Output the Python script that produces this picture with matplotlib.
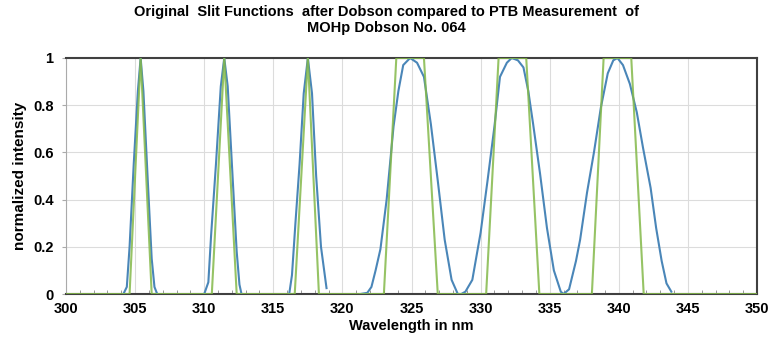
import numpy as np
import matplotlib.pyplot as plt
from matplotlib.ticker import MultipleLocator

plt.rcParams['font.family'] = ['Liberation Sans', 'DejaVu Sans']

ptb_x1 = [304.15, 304.4, 304.6, 304.9, 305.2, 305.4, 305.6, 305.9, 306.2, 306.4, 306.6]
ptb_y1 = [0.0, 0.03, 0.2, 0.55, 0.86, 1.0, 0.86, 0.5, 0.15, 0.03, 0.0]
ptb_x2 = [310.0, 310.3, 310.5, 310.85, 311.2, 311.45, 311.7, 312.05, 312.35, 312.55, 312.7]
ptb_y2 = [0.0, 0.05, 0.25, 0.55, 0.88, 1.0, 0.88, 0.5, 0.18, 0.04, 0.0]
ptb_x3 = [316.15, 316.35, 316.6, 316.9, 317.2, 317.5, 317.8, 318.1, 318.45, 318.85]
ptb_y3 = [0.0, 0.08, 0.3, 0.55, 0.85, 1.0, 0.85, 0.5, 0.2, 0.025]
ptb_x4 = [321.3, 321.8, 322.1, 322.4, 322.75, 323.2, 323.7, 324.05, 324.4, 324.9,
          325.4, 325.9, 326.4, 326.9, 327.4, 327.9, 328.35, 328.6, 328.9, 329.4,
          330.0, 330.5, 331.0, 331.4, 331.9, 332.25, 332.7, 333.1, 333.45, 333.8,
          334.3, 334.8, 335.3, 335.8, 336.0, 336.4, 336.9, 337.2, 337.7, 338.2,
          338.7, 339.2, 339.6, 339.9, 340.3, 340.8, 341.3, 341.75, 342.3, 342.7,
          343.1, 343.45, 343.8]
ptb_y4 = [0.0, 0.005, 0.03, 0.1, 0.19, 0.40, 0.71, 0.86, 0.97, 1.0,
          0.98, 0.92, 0.72, 0.48, 0.23, 0.06, 0.0, 0.0, 0.01, 0.06,
          0.26, 0.48, 0.71, 0.92, 0.98, 1.0, 0.99, 0.96, 0.86, 0.72,
          0.51, 0.28, 0.10, 0.01, 0.0, 0.02, 0.14, 0.23, 0.43, 0.60,
          0.79, 0.935, 0.99, 1.0, 0.97, 0.89, 0.77, 0.62, 0.45, 0.28,
          0.14, 0.045, 0.01]

# original Dobson slit functions
dob_x = [300.0, 304.6, 305.4, 306.2, 310.55, 311.45, 312.35, 316.55, 317.5, 318.3,
         323.0, 323.9, 325.9, 326.9, 330.4, 331.3, 333.3, 334.25,
         338.05, 338.9, 340.9, 341.8, 350.0]
dob_y = [0, 0, 1, 0, 0, 1, 0, 0, 1, 0,
         0, 1, 1, 0, 0, 1, 1, 0,
         0, 1, 1, 0, 0]

blue = '#4a86b8'
green = '#84b94a'

fig = plt.figure(figsize=(7.72, 3.44), dpi=100)
ax = fig.add_axes([0.0855, 0.1453, 0.8951, 0.6861])

for xs, ys in [(ptb_x1, ptb_y1), (ptb_x2, ptb_y2), (ptb_x3, ptb_y3), (ptb_x4, ptb_y4)]:
    ax.plot(xs, ys, color=blue, lw=1.5, zorder=3)
ax.plot(dob_x, dob_y, color=green, lw=1.5, alpha=0.85, zorder=4)

ax.set_xlim(300, 350)
ax.set_ylim(0, 1)
ax.xaxis.set_major_locator(MultipleLocator(5))
ax.xaxis.set_minor_locator(MultipleLocator(1))
ax.set_yticks([0, 0.2, 0.4, 0.6, 0.8, 1])
ax.set_yticklabels(['0', '0.2', '0.4', '0.6', '0.8', '1'])
ax.grid(True, color='#dcdcdc', lw=0.8, zorder=0)
ax.tick_params(axis='x', which='major', length=0, labelsize=10.5, pad=6)
ax.tick_params(axis='x', which='minor', direction='in', length=3, color='#888888')
ax.tick_params(axis='y', length=3, color='#aaaaaa', labelsize=10.5, pad=6)
for lab in ax.get_xticklabels() + ax.get_yticklabels():
    lab.set_fontweight('bold')

for side in ['top', 'right', 'bottom']:
    ax.spines[side].set_color('#404040')
    ax.spines[side].set_linewidth(1.5)
ax.spines['left'].set_color('#aaaaaa')
ax.spines['left'].set_linewidth(0.8)

ax.set_xlabel('Wavelength in nm', fontsize=10.5, fontweight='bold', labelpad=2)
ax.set_ylabel('normalized intensity', fontsize=11, fontweight='bold', labelpad=4)
fig.suptitle('Original  Slit Functions  after Dobson compared to PTB Measurement  of\nMOHp Dobson No. 064',
             fontsize=10.5, fontweight='bold', y=0.985, linespacing=1.2)

fig.savefig('out.png', dpi=100)
